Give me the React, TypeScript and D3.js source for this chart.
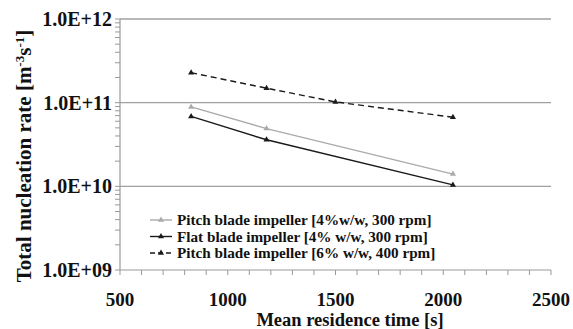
import React from "react";
import * as d3 from "d3";

const residenceTime = [830, 1180, 1500, 2045];

const pitch4 = [
  { t: 830, rate: 8.9e10 },
  { t: 1180, rate: 4.9e10 },
  { t: 2045, rate: 1.4e10 },
];
const flat4 = [
  { t: 830, rate: 6.85e10 },
  { t: 1180, rate: 3.6e10 },
  { t: 2045, rate: 1.04e10 },
];
const pitch6 = [
  { t: residenceTime[0], rate: 2.28e11 },
  { t: residenceTime[1], rate: 1.49e11 },
  { t: residenceTime[2], rate: 1.02e11 },
  { t: residenceTime[3], rate: 6.7e10 },
];

const xTicks = [500, 1000, 1500, 2000, 2500];
const yTicks = [1e9, 1e10, 1e11, 1e12];
const yTickLabels = ["1.0E+09", "1.0E+10", "1.0E+11", "1.0E+12"];

const seriesList = [
  { name: "Pitch blade impeller [4%w/w, 300 rpm]", data: pitch4, color: "#aaaaaa", dash: "" },
  { name: "Flat blade impeller [4% w/w, 300 rpm]", data: flat4, color: "#1a1a1a", dash: "" },
  { name: "Pitch blade impeller [6% w/w, 400 rpm]", data: pitch6, color: "#1a1a1a", dash: "6,4" },
];

const App = () => {
  const margin = { top: 19, right: 22, bottom: 59, left: 120 };
  const width = 573 - margin.left - margin.right;
  const height = 329 - margin.top - margin.bottom;
  const font = "'Liberation Serif', 'Times New Roman', serif";

  const x = d3.scaleLinear().domain([500, 2500]).range([0, width]);
  const y = d3.scaleLog().domain([1e9, 1e12]).range([height, 0]);

  const line = d3
    .line<{ t: number; rate: number }>()
    .x((d) => x(d.t))
    .y((d) => y(d.rate));

  const tri = d3.symbol().type(d3.symbolTriangle).size(16)();

  const minorY: number[] = [];
  [1e9, 1e10, 1e11].forEach((dec) => {
    for (let k = 2; k <= 9; k++) minorY.push(dec * k);
  });
  const minorX = d3.range(500, 2501, 100);

  return (
    <svg width={573} height={329} style={{ position: "absolute", left: 0, top: 0 }}>
      <rect width={573} height={329} fill="#fff" />
      <g transform={`translate(${margin.left}, ${margin.top})`}>
        {yTicks.slice(1).map((v) => (
          <line key={v} x1={0} x2={width} y1={y(v)} y2={y(v)} stroke="#a0a0a0" strokeWidth={1.3} />
        ))}
        <line x1={0} x2={0} y1={0} y2={height} stroke="#999" strokeWidth={1.2} />
        <line x1={0} x2={width} y1={height} y2={height} stroke="#999" strokeWidth={1.2} />
        {minorY.map((v) => (
          <line key={v} x1={-5} x2={0} y1={y(v)} y2={y(v)} stroke="#999" />
        ))}
        {yTicks.map((v) => (
          <line key={v} x1={-5} x2={0} y1={y(v)} y2={y(v)} stroke="#999" />
        ))}
        {minorX.map((v) => (
          <line key={v} x1={x(v)} x2={x(v)} y1={height} y2={height + 5} stroke="#999" />
        ))}
        {yTicks.map((v, i) => (
          <text
            key={v}
            x={-8}
            y={y(v)}
            dy="0.35em"
            textAnchor="end"
            fontFamily={font}
            fontWeight="bold"
            fontSize={20}
            fill="#111"
          >
            {yTickLabels[i]}
          </text>
        ))}
        {xTicks.map((v) => (
          <text
            key={v}
            x={x(v)}
            y={height + 36}
            textAnchor="middle"
            fontFamily={font}
            fontWeight="bold"
            fontSize={19}
            fill="#111"
          >
            {v}
          </text>
        ))}
        {seriesList.map((s) => (
          <g key={s.name}>
            <path d={line(s.data) ?? ""} fill="none" stroke={s.color} strokeWidth={1.4} strokeDasharray={s.dash} />
            {s.data.map((d, i) => (
              <path key={i} d={tri ?? ""} transform={`translate(${x(d.t)},${y(d.rate)})`} fill={s.color} />
            ))}
          </g>
        ))}
        {seriesList.map((s, i) => (
          <g key={s.name} transform={`translate(30, ${201 + i * 16.5})`}>
            <line x1={0} x2={22} y1={0} y2={0} stroke={s.color} strokeWidth={1.4} strokeDasharray={s.dash ? "5,3" : ""} />
            <path d={tri ?? ""} transform="translate(11,0)" fill={s.color} />
            <text x={27} y={0} dy="0.35em" fontFamily={font} fontWeight="bold" fontSize={15.2} fill="#111">
              {s.name}
            </text>
          </g>
        ))}
      </g>
      <text
        x={350}
        y={325.5}
        textAnchor="middle"
        fontFamily={font}
        fontWeight="bold"
        fontSize={18.5}
        fill="#111"
      >
        Mean residence time [s]
      </text>
      <text
        transform="translate(31, 156) rotate(-90)"
        textAnchor="middle"
        fontFamily={font}
        fontWeight="bold"
        fontSize={21}
        fill="#111"
      >
        Total nucleation rate [m
        <tspan baselineShift="super" fontSize={13}>-3</tspan>
        s
        <tspan baselineShift="super" fontSize={13}>-1</tspan>]
      </text>
    </svg>
  );
};

export default App;
